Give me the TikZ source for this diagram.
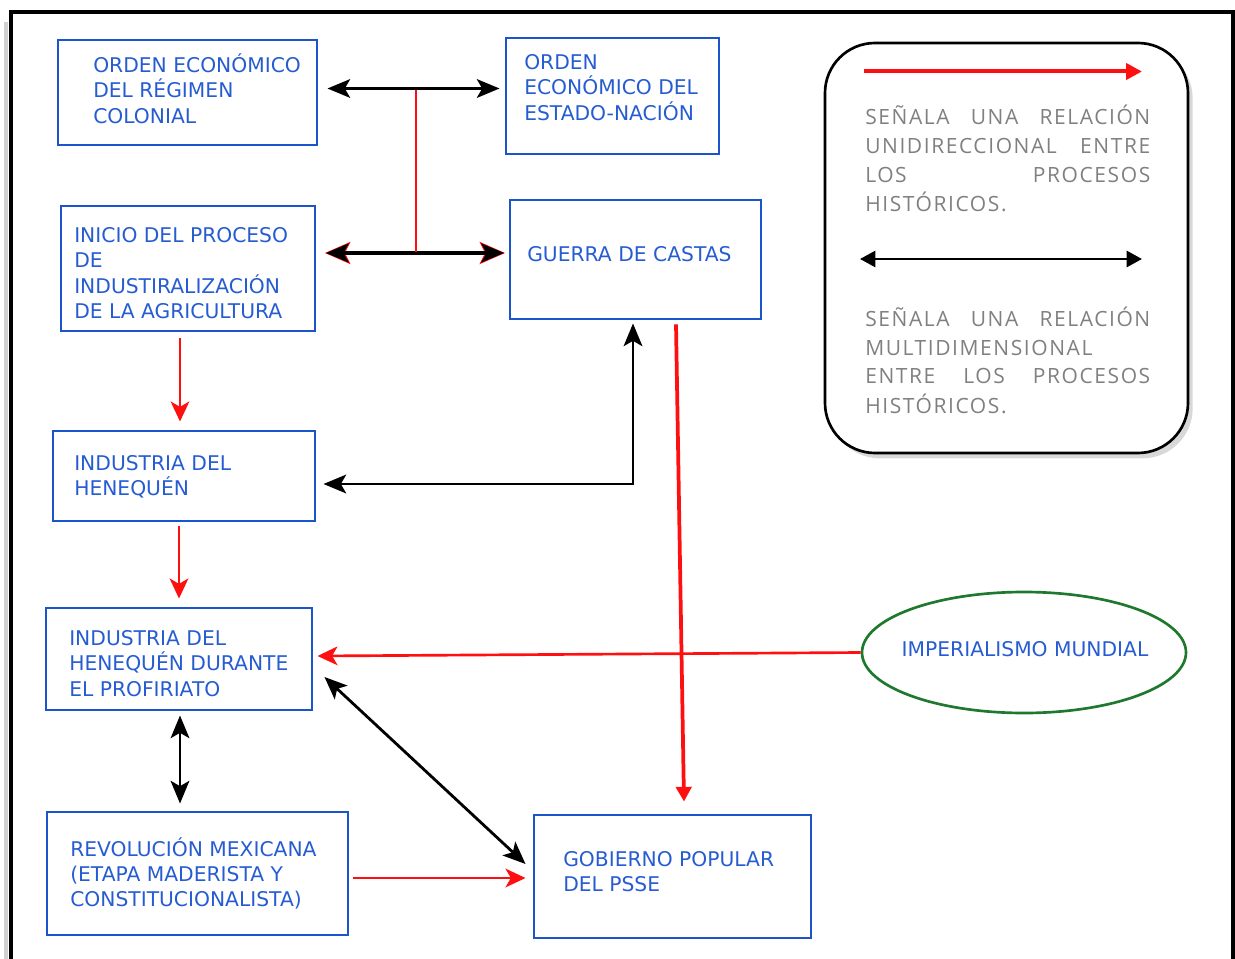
\documentclass[tikz,border=0pt]{standalone}
\usepackage{fontspec}
\setmainfont{DejaVu Sans}
\newfontfamily\legfont[LetterSpace=7.5]{Open Sans}
\usetikzlibrary{arrows.meta,shapes.geometric,shadows,calc}
\definecolor{txtblue}{RGB}{38,92,210}
\definecolor{boxblue}{RGB}{28,84,204}
\definecolor{arrred}{RGB}{255,16,16}
\definecolor{elgreen}{RGB}{30,120,45}
\definecolor{leggray}{RGB}{128,128,128}
\begin{document}
\begin{tikzpicture}[x=0.75pt,y=-0.75pt,
  bx/.style={draw=boxblue, line width=2.2pt, rectangle, inner sep=0pt},
  tx/.style={anchor=base west, inner sep=0pt, text=txtblue, font=\fontsize{15.2}{19}\selectfont},
  lgtx/.style={anchor=base west, inner sep=0pt, text=leggray, font=\legfont\fontsize{15.75}{21.75}\selectfont},
  bhead/.tip={Stealth[length=17pt,width=14pt,inset=4pt]},
  rhead/.tip={Stealth[length=15pt,width=14pt,inset=4pt]},
  thead/.tip={Triangle[length=11pt,width=11.5pt]},
  blk/.style={draw=black, line width=2.1pt, bhead-bhead},
  redarr/.style={draw=arrred, line width=2pt, -rhead},
  redline/.style={draw=arrred, line width=1.8pt},
]
\path[use as bounding box] (0,0) rectangle (1235,959);
% outer frame with shadow
\draw[black!18, line width=3pt] (6,22) -- (6,975);
\draw[line width=3pt] (11.3,975) -- (11.3,12) -- (1233,12) -- (1233,975);

% boxes
\node[bx, minimum width=194.25pt, minimum height=78.75pt] (b1) at (187.5,92.5) {};
\node[bx, minimum width=159.75pt, minimum height=87pt]    (b2) at (612.5,96) {};
\node[bx, minimum width=190.5pt,  minimum height=93.75pt] (b3) at (188,268.5) {};
\node[bx, minimum width=188.25pt, minimum height=89.25pt] (b4) at (635.5,259.5) {};
\node[bx, minimum width=196.5pt,  minimum height=67.5pt]  (b5) at (184,476) {};
\node[bx, minimum width=199.5pt,  minimum height=76.5pt]  (b6) at (179,659) {};
\node[bx, minimum width=225.75pt, minimum height=92.25pt] (b7) at (197.5,873.5) {};
\node[bx, minimum width=207.75pt, minimum height=92.25pt] (b8) at (672.5,876.5) {};
\node[draw=elgreen, line width=2pt, ellipse, inner sep=0pt,
      minimum width=243pt, minimum height=90.75pt] (el) at (1024,652.5) {};

% texts
\node[tx] (t1) at (93,72.5)  {\vtop{\hbox{ORDEN ECONÓMICO}\hbox{DEL RÉGIMEN}\hbox{COLONIAL}}};
\node[tx] (t2) at (524,69.5) {\vtop{\hbox{ORDEN}\hbox{ECONÓMICO DEL}\hbox{ESTADO-NACIÓN}}};
\node[tx] (t3) at (74,242.5) {\vtop{\hbox{INICIO DEL PROCESO}\hbox{DE}\hbox{INDUSTIRALIZACIÓN}\hbox{DE LA AGRICULTURA}}};
\node[tx] (t4) at (527,261.5) {GUERRA DE CASTAS};
\node[tx] (t5) at (74,470.5) {\vtop{\hbox{INDUSTRIA DEL}\hbox{HENEQUÉN}}};
\node[tx] (t6) at (69,645.5) {\vtop{\hbox{INDUSTRIA DEL}\hbox{HENEQUÉN DURANTE}\hbox{EL PROFIRIATO}}};
\node[tx] (t7) at (70,856)   {\vtop{\hbox{REVOLUCIÓN MEXICANA}\hbox{(ETAPA MADERISTA Y}\hbox{CONSTITUCIONALISTA)}}};
\node[tx] (t8) at (563,866)  {\vtop{\hbox{GOBIERNO POPULAR}\hbox{DEL PSSE}}};
\node[tx, anchor=base] (t9) at (1025,656.5) {IMPERIALISMO MUNDIAL};

% connectors
\draw[blk] ($(b1.east)+(9,-4)$) -- ($(b2.west)+(-5,-7.5)$);
\draw[draw=arrred, line width=2.6pt, {Stealth[length=19pt,width=16.5pt,inset=4pt]}-{Stealth[length=19pt,width=16.5pt,inset=4pt]}]
  ($(b3.east)+(8.5,-15.5)$) -- ($(b4.west)+(-3.5,-6.5)$);
\draw[blk, line width=3pt] ($(b3.east)+(9.5,-15.5)$) -- ($(b4.west)+(-4.5,-6.5)$);
\coordinate (ja) at (416,90);
\coordinate (jb) at (416,252);
\draw[redline] (ja) -- (jb);
\draw[redarr] ($(b3.south)+(-8,6)$) -- ($(b5.north)+(-4,-8)$);
\draw[redarr] ($(b5.south)+(-5,4)$) -- ($(b6.north)+(0,-8)$);
\draw[blk] ($(b4.south)+(-2.5,3)$) |- ($(b5.east)+(7,8)$);
\draw[draw=arrred, line width=2.8pt, -thead] ($(b4.south)+(40.5,4)$) -- ($(b8.north)+(11.5,-12)$);
\draw[redarr] (el.west) -- ($(b6.east)+(4,-3)$);
\draw[blk] ($(b6.south)+(1,4)$) -- ($(b7.north)+(-17.5,-7)$);
\draw[blk] ($(b6.east)+(11,18)$) -- ($(b8.west)+(-7,-12.5)$);
\draw[redarr] ($(b7.east)+(4,4.5)$) -- ($(b8.west)+(-7,1.5)$);

% legend
\node[draw=black, line width=2pt, rounded corners=37.5pt, fill=white,
      minimum width=272.25pt, minimum height=307.5pt, inner sep=0pt,
      drop shadow={shadow xshift=3.5pt, shadow yshift=-4pt, fill=black!30}] (leg) at (1006.5,248) {};
\coordinate (lra) at (864,71.5);
\coordinate (lrb) at (1142,71.5);
\draw[draw=arrred, line width=3pt, -{Triangle[length=12pt,width=12pt]}] (lra) -- (lrb);
\coordinate (lba) at (860,259);
\coordinate (lbb) at (1142,259);
\draw[draw=black, line width=2pt, {Triangle[length=11.5pt,width=12pt]}-{Triangle[length=11.5pt,width=12pt]}] (lba) -- (lbb);
\node[lgtx] (lg1) at (865,125) {\vtop{%
  \hbox to 213.75pt{SEÑALA\hfill UNA\hfill RELACIÓN}%
  \hbox to 213.75pt{UNIDIRECCIONAL\hfill ENTRE}%
  \hbox to 213.75pt{LOS\hfill PROCESOS}%
  \hbox{HISTÓRICOS.}}};
\node[lgtx] (lg2) at (865,326) {\vtop{%
  \hbox to 213.75pt{SEÑALA\hfill UNA\hfill RELACIÓN}%
  \hbox{MULTIDIMENSIONAL}%
  \hbox to 213.75pt{ENTRE\hfill LOS\hfill PROCESOS}%
  \hbox{HISTÓRICOS.}}};
\end{tikzpicture}
\end{document}
